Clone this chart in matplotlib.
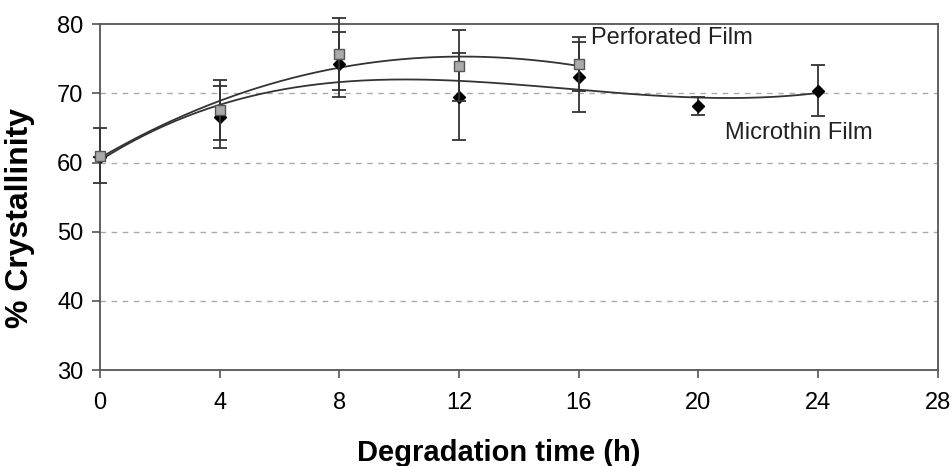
import numpy as np
import matplotlib
matplotlib.use('Agg')
import matplotlib.pyplot as plt

plt.rcParams['font.family'] = ['Liberation Sans', 'DejaVu Sans']

# Perforated film (gray squares)
x_perf = [0, 4, 8, 12, 16]
y_perf = [61.0, 67.6, 75.7, 74.0, 74.3]
e_perf = [4.0, 4.3, 5.2, 5.1, 3.9]

# Microthin film (black diamonds)
x_micro = [0, 4, 8, 12, 16, 20, 24]
y_micro = [60.8, 66.6, 74.2, 69.5, 72.4, 68.2, 70.4]
e_micro = [0.0, 4.5, 4.7, 6.3, 5.1, 1.3, 3.7]

x_ticks = [0, 4, 8, 12, 16, 20, 24, 28]
y_ticks = [30, 40, 50, 60, 70, 80]

fig = plt.figure(figsize=(9.53, 4.66), dpi=100)
ax = fig.add_axes([0.105, 0.206, 0.879, 0.742])

# trendlines (polynomial fits, like Excel)
c1 = np.polyfit(x_perf, y_perf, 3)
xs1 = np.linspace(min(x_perf), max(x_perf), 200)
ax.plot(xs1, np.polyval(c1, xs1), color='#333333', linewidth=1.3, zorder=3)
c2 = np.polyfit(x_micro, y_micro, 3)
xs2 = np.linspace(min(x_micro), max(x_micro), 200)
ax.plot(xs2, np.polyval(c2, xs2), color='#333333', linewidth=1.3, zorder=3)

ax.errorbar(x_micro, y_micro, yerr=e_micro, fmt='D', color='black', markersize=6,
            ecolor='#333333', elinewidth=1.3, capsize=5, capthick=1.3, zorder=4, clip_on=False)
ax.errorbar(x_perf, y_perf, yerr=e_perf, fmt='s', markerfacecolor='#aaaaaa', markeredgecolor='#555555',
            markersize=7, ecolor='#333333', elinewidth=1.3, capsize=5, capthick=1.3, zorder=5, clip_on=False)

ax.text(16.4, 78.0, 'Perforated Film', fontsize=17, va='center', ha='left', color='#222222')
ax.text(20.9, 64.2, 'Microthin Film', fontsize=17, va='center', ha='left', color='#222222')

ax.set_xlim(0, 28)
ax.set_ylim(30, 80)
ax.set_xticks(x_ticks)
ax.set_yticks(y_ticks)
ax.tick_params(labelsize=17, length=6, width=1.2, color='#555555', direction='out')
ax.tick_params(axis='x', pad=10)
ax.tick_params(axis='y', pad=6)
for s in ax.spines.values():
    s.set_color('#555555')
    s.set_linewidth(1.3)

for yv in [40, 50, 60, 70]:
    ax.axhline(yv, color='#aaaaaa', linestyle=(0, (4, 4)), linewidth=1, zorder=1)

ax.set_xlabel('Degradation time (h)', fontsize=21, fontweight='bold')
ax.set_ylabel('% Crystallinity', fontsize=23, fontweight='bold')
ax.xaxis.set_label_coords(0.476, -0.2)
ax.yaxis.set_label_coords(-0.078, 0.44)

fig.savefig('out.png', dpi=100)
